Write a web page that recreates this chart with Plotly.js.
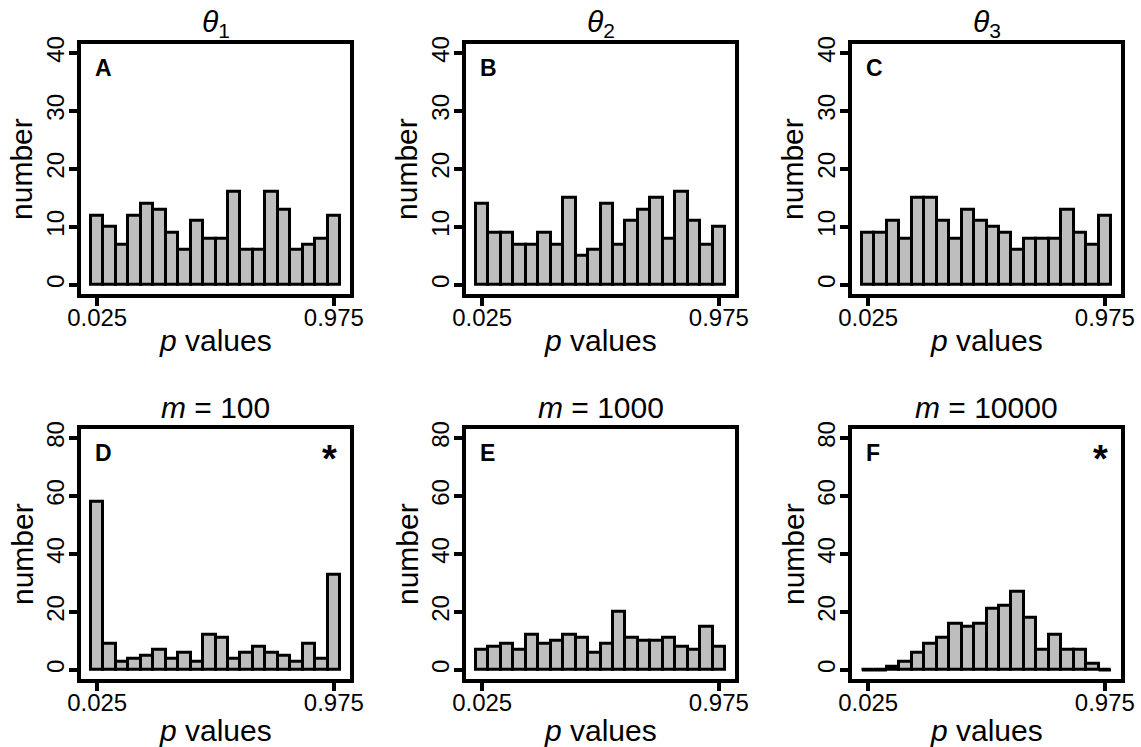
<!DOCTYPE html>
<html><head><meta charset="utf-8">
<script src="https://cdn.plot.ly/plotly-3.0.1.min.js"></script>
<style>html,body{margin:0;padding:0;background:#fff;}</style>
</head><body>
<div id="chart" style="width:1141px;height:747px"></div>
<script>
// ---- data ----
const binCenters = [0.025,0.075,0.125,0.175,0.225,0.275,0.325,0.375,0.425,0.475,0.525,0.575,0.625,0.675,0.725,0.775,0.825,0.875,0.925,0.975];
const binWidth = 0.05;
const countsA = [12,10,7,12,14,13,9,6,11,8,8,16,6,6,16,13,6,7,8,12];
const countsB = [14,9,9,7,7,9,7,15,5,6,14,7,11,13,15,8,16,11,7,10];
const countsC = [9,9,11,8,15,15,11,8,13,11,10,9,6,8,8,8,13,9,7,12];
const countsD = [58,9,3,4,5,7,4,6,3,12,11,4,6,8,6,5,3,9,4,33];
const countsE = [7,8,9,7,12,9,10,12,11,6,9,20,11,10,10,11,8,7,15,8];
const countsF = [0,0,1,3,6,9,11,16,15,16,21,22,27,18,7,12,7,7,2,0];
const panelTitles = ["<i>θ</i><sub>1</sub>","<i>θ</i><sub>2</sub>","<i>θ</i><sub>3</sub>","<i>m</i> = 100","<i>m</i> = 1000","<i>m</i> = 10000"];
const panelLetters = ["A","B","C","D","E","F"];
const starred = [false,false,false,true,false,true];
const yTicksTop = [0,10,20,30,40];
const yTicksBottom = [0,20,40,60,80];
const xTickVals = [0.025,0.975];
const xTickText = ["0.025","0.975"];
const xTitle = "<i>p</i> values";
const yTitle = "number";

// ---- layout geometry (pixels) ----
const W = 1141, H = 747;
const colLeft = [81, 466, 852];
const colWidth = 269;
const rowTop = [43.7, 428.8];
const rowHeight = 250.5;
const font = "Liberation Sans, Arial, Helvetica, sans-serif";

const allCounts = [countsA,countsB,countsC,countsD,countsE,countsF];
const traces = [];
const layout = {
  width: W, height: H,
  margin: {l:0,r:0,t:0,b:0},
  paper_bgcolor: '#fff', plot_bgcolor: '#fff',
  showlegend: false,
  bargap: 0,
  font: {family: font, color: '#000'},
  annotations: []
};
const py = p => 1 - p / H;
const px = p => p / W;

allCounts.forEach((counts, i) => {
  const n = i + 1;
  const row = i < 3 ? 0 : 1;
  const col = i % 3;
  const yTicks = row === 0 ? yTicksTop : yTicksBottom;
  const ymax = yTicks[yTicks.length - 1];
  const xa = 'x' + (n === 1 ? '' : n), ya = 'y' + (n === 1 ? '' : n);
  traces.push({
    type: 'bar', x: binCenters, y: counts, width: binWidth,
    xaxis: xa, yaxis: ya,
    marker: {color: '#BEBEBE', line: {color: '#000', width: 3}},
    hoverinfo: 'x+y'
  });
  // zero-count bins drawn as flat line segments (as in base-R histograms)
  const zx = [], zy = [];
  counts.forEach((c, k) => {
    if (c === 0) { zx.push(binCenters[k] - binWidth/2, binCenters[k] + binWidth/2, null); zy.push(0, 0, null); }
  });
  if (zx.length) traces.push({type:'scatter', mode:'lines', x: zx, y: zy, xaxis: xa, yaxis: ya,
    line: {color:'#000', width:3}, hoverinfo:'skip', cliponaxis:false});

  const x0 = colLeft[col], x1 = x0 + colWidth;
  const yTop = rowTop[row], yBot = yTop + rowHeight;
  layout['xaxis' + (n === 1 ? '' : n)] = {
    domain: [px(x0), px(x1)], anchor: ya,
    range: [-0.04, 1.04], tickvals: xTickVals, ticktext: xTickText,
    ticks: 'outside', ticklen: 8, tickwidth: 4, tickcolor: '#000',
    ticklabelstandoff: -9,
    showline: true, linewidth: 4, linecolor: '#000', mirror: true,
    showgrid: false, zeroline: false,
    tickfont: {size: 24, color: '#000', family: font}, fixedrange: true
  };
  layout['yaxis' + (n === 1 ? '' : n)] = {
    domain: [py(yBot), py(yTop)], anchor: xa,
    range: [-0.04*ymax, 1.04*ymax], tickvals: yTicks,
    tickangle: -90,
    ticks: 'outside', ticklen: 8, tickwidth: 4, tickcolor: '#000',
    ticklabelstandoff: -5,
    showline: true, linewidth: 4, linecolor: '#000', mirror: true,
    showgrid: false, zeroline: false,
    tickfont: {size: 24, color: '#000', family: font}, fixedrange: true
  };
  const cx = (x0 + x1) / 2, cy = (yTop + yBot) / 2;
  // panel title
  layout.annotations.push({xref:'paper', yref:'paper', x: px(cx), y: py(row === 0 ? 23 : 407),
    text: panelTitles[i], showarrow:false, xanchor:'center', yanchor:'middle',
    font:{size:30, family:font, color:'#000'}});
  // x title
  layout.annotations.push({xref:'paper', yref:'paper', x: px(cx), y: py(row === 0 ? 340 : 730),
    text: xTitle, showarrow:false, xanchor:'center', yanchor:'middle',
    font:{size:30, family:font, color:'#000'}});
  // y title
  layout.annotations.push({xref:'paper', yref:'paper', x: px(x0 - 59), y: py(cy),
    text: yTitle, textangle: -90, showarrow:false, xanchor:'center', yanchor:'middle',
    font:{size:30, family:font, color:'#000'}});
  // panel letter
  layout.annotations.push({xref:'paper', yref:'paper', x: px(x0 + 12), y: py(yTop + 24),
    text: '<b>' + panelLetters[i] + '</b>', showarrow:false, xanchor:'left', yanchor:'middle',
    font:{size:23, family:font, color:'#000'}});
  if (starred[i]) {
    layout.annotations.push({xref:'paper', yref:'paper', x: px(x1 - 21), y: py(yTop + 30),
      text: '<b>*</b>', showarrow:false, xanchor:'center', yanchor:'middle',
      font:{size:38, family:font, color:'#000'}});
  }
});

Plotly.newPlot('chart', traces, layout, {displayModeBar:false});
</script>
</body></html>
